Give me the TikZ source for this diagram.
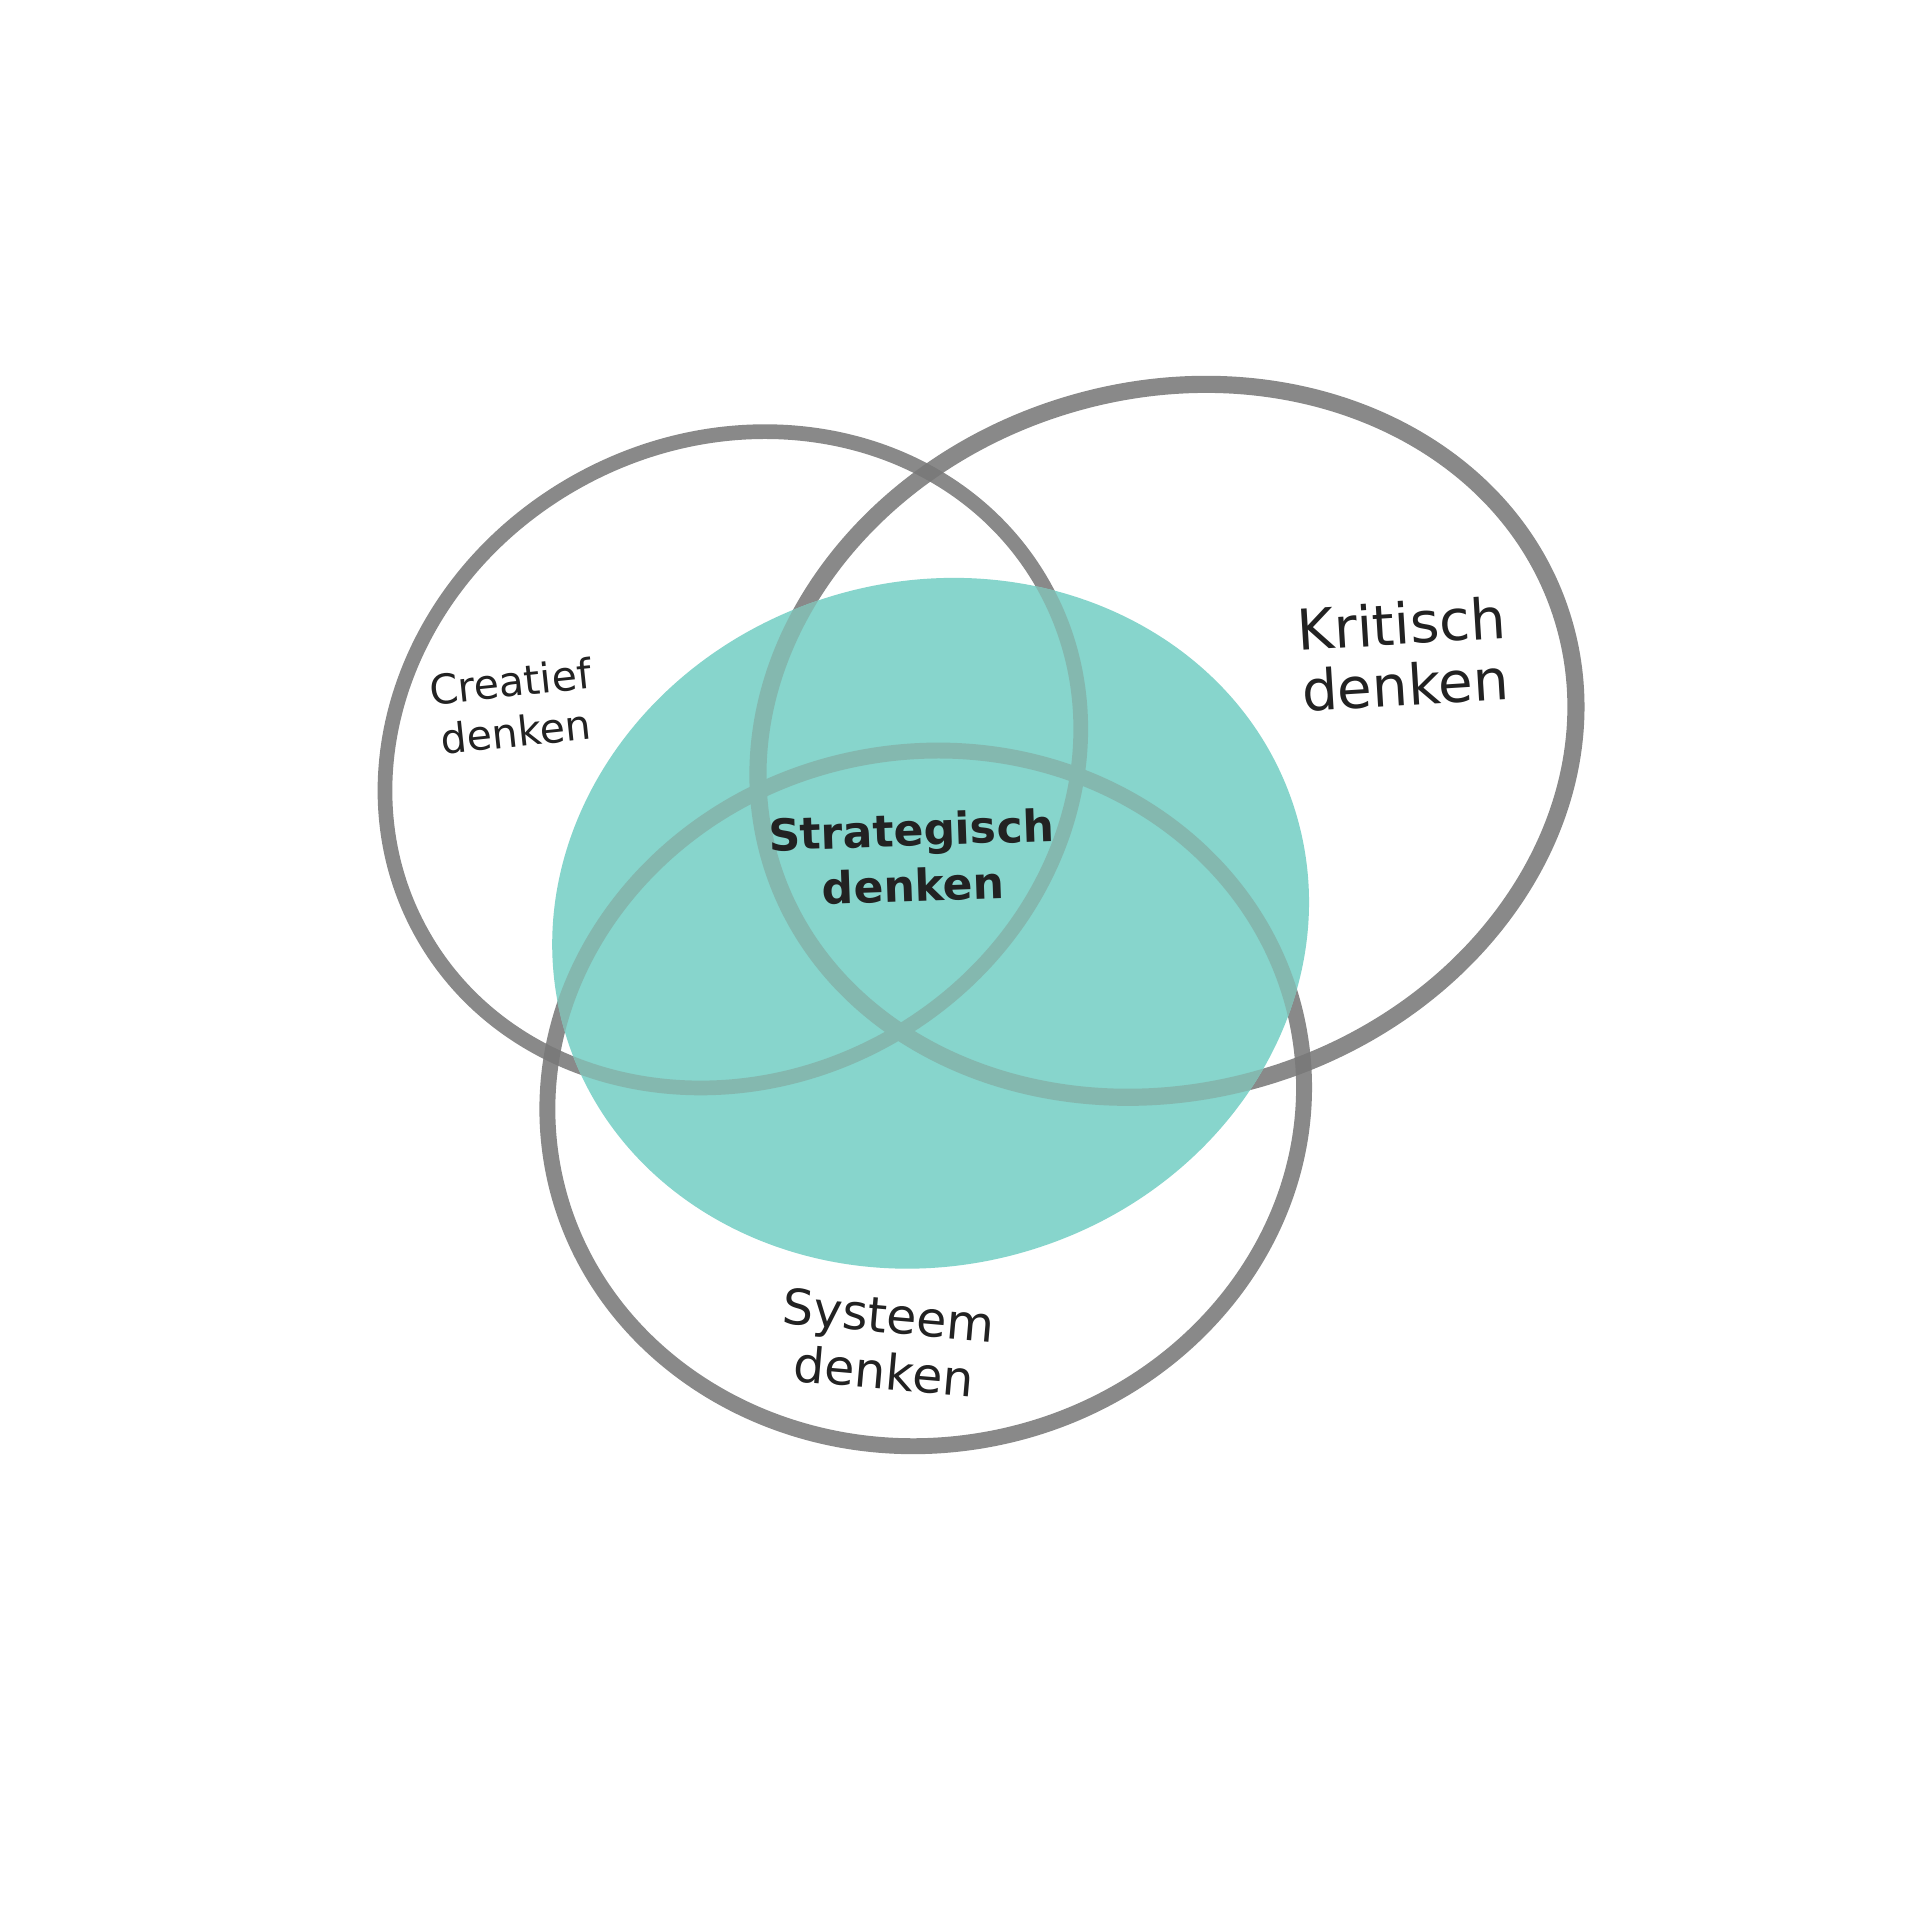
\documentclass[tikz,border=0pt]{standalone}
\usepackage{fontspec}
\setmainfont{DejaVu Sans}
\definecolor{ringgray}{RGB}{120,120,120}
\definecolor{tealfill}{RGB}{135,213,204}
\definecolor{ringteal}{RGB}{132,184,175}
\definecolor{txt}{RGB}{34,34,34}
\begin{document}
\begin{tikzpicture}[x=1pt,y=-1pt,
  ring/.style={draw=ringgray, draw opacity=0.87},
  lbl/.style={text=txt, align=center, inner sep=0pt}]
\fill[white] (0,0) rectangle (1568,1568);
\useasboundingbox (0,0) rectangle (1568,1568);
\tikzset{
  ringA/.style={line width=12pt, rotate around={29:(598.5,620.5)}},
  ringB/.style={line width=14pt, rotate around={17.4:(953,605)}},
  ringC/.style={line width=13pt, rotate around={10.5:(756,897)}},
  tealshape/.style={rotate around={16.95:(760,754)}}
}
% rings
\draw[ring, ringA] (598.5,620.5) ellipse [x radius=290.9, y radius=260.5];
\draw[ring, ringB] (953,605) ellipse [x radius=338.3, y radius=286];
\draw[ring, ringC] (756,897) ellipse [x radius=309.8, y radius=283.1];
% strategic area
\fill[tealfill, tealshape] (760,754) ellipse [x radius=311.6, y radius=279.1];
\begin{scope}
  \clip[tealshape] (760,754) ellipse [x radius=311.6, y radius=279.1];
  \draw[ringteal, ringA] (598.5,620.5) ellipse [x radius=290.9, y radius=260.5];
  \draw[ringteal, ringB] (953,605) ellipse [x radius=338.3, y radius=286];
  \draw[ringteal, ringC] (756,897) ellipse [x radius=309.8, y radius=283.1];
\end{scope}
% labels
\node[lbl, rotate=6, font=\fontsize{33.5}{41}\selectfont] (creatief) at (419,577) {Creatief\\denken};
\node[lbl, rotate=3.5, font=\fontsize{46}{50}\selectfont] (kritisch) at (1146,534) {Kritisch\\denken};
\node[lbl, rotate=2, font=\fontsize{36}{45}\selectfont\bfseries] (strategisch) at (745,700) {Strategisch\\denken};
\node[lbl, rotate=-5, font=\fontsize{40}{46}\selectfont] (systeem) at (724,1097) {Systeem\\denken};
\end{tikzpicture}
\end{document}
